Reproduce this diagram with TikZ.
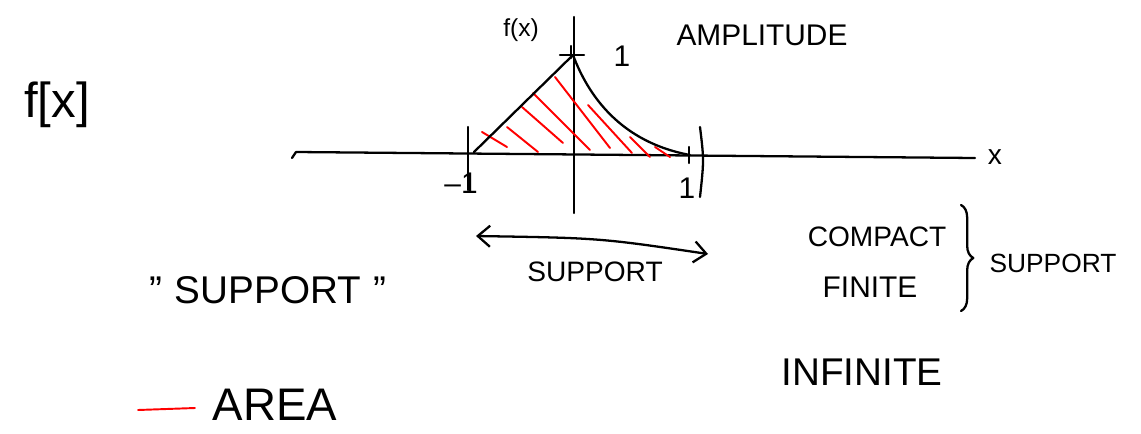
\documentclass[tikz,border=0pt]{standalone}
\usepackage{fontspec}
\setmainfont{Liberation Sans}
\usetikzlibrary{arrows.meta,decorations.pathreplacing}
\definecolor{areaRed}{HTML}{FF0000}

\begin{document}
\begin{tikzpicture}[x=0.02cm,y=-0.02cm,
    pen/.style={line width=1.3pt, line cap=round, line join=round},
    hatch/.style={areaRed, line width=1.1pt, line cap=round},
    lbl/.style={inner sep=0pt, font=\fontsize{#1}{#1}\selectfont}]
  \useasboundingbox (0,0) rectangle (1141,433);
  % axes
  \coordinate (xl) at (296,152);
  \coordinate (xr) at (975,158);
  \draw[pen] (292,158) -- (xl) -- (xr);
  \node[lbl=16] (xlab) at (995,157) {x};
  \draw[pen] (574,17) -- (574,213);
  \node[lbl=14] (fx) at (521,30) {f(x)};
  % the function
  \coordinate (left) at (474,152);
  \coordinate (peak) at (573,55);
  \coordinate (right) at (690,155);
  \foreach \a/\b/\c/\d in {482/132/507/147, 507/127/538/152, 522/107/563/143,
      533/93/590/150, 555/77/610/148, 588/105/632/153, 630/137/650/157, 655/147/670/157}
    \draw[hatch] (\a,\b) -- (\c,\d);
  \draw[pen] (left) -- (peak) .. controls (588,95) and (620,142) .. (right);
  % ticks and amplitude
  \draw[pen] (560,55) -- (584,55);
  \draw[pen] (571,46) -- (571,58);
  \node[lbl=17] (one) at (622,56) {1};
  \node[lbl=17] (ampl) at (762,35) {AMPLITUDE};
  \draw[pen] (468,127) -- (468,190);
  \node[lbl=17] (mone) at (461,183) {–1};
  \draw[pen] (689,147) -- (689,163);
  \draw[pen] (700,127) .. controls (704,160) .. (700,197);
  \node[lbl=17] (pone) at (687,188) {1};
  % support arrow
  \coordinate (sa) at (476,236);
  \coordinate (sb) at (708,254);
  \draw[pen, {Straight Barb[length=7pt,width=12pt]}-{Straight Barb[length=7pt,width=12pt]}]
    (sa) .. controls (600,238) .. (sb);
  \node[lbl=16] (supp) at (595,272) {SUPPORT};
  % compact / finite
  \node[lbl=16] (compact) at (877,237) {COMPACT};
  \node[lbl=17] (finite) at (870,287) {FINITE};
  \draw[pen, decorate, decoration={brace, amplitude=7pt}] (961,205) -- (961,311);
  \node[lbl=15] (suppr) at (1053,263) {SUPPORT};
  \node[lbl=22] (infinite) at (862,372) {INFINITE};
  % left side
  \node[lbl=28] (fbig) at (57,105) {f[x]};
  \node[lbl=22] (quoted) at (268,290) {"\,\,SUPPORT\,\,"};
  \coordinate (ra) at (138,410);
  \coordinate (rb) at (195,408);
  \draw[hatch] (ra) -- (rb);
  \node[lbl=26] (area) at (275,405) {AREA};
\end{tikzpicture}
\end{document}
